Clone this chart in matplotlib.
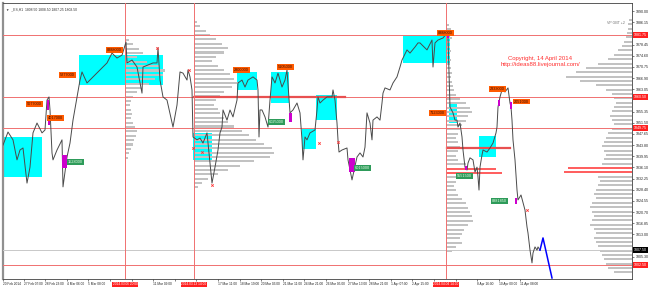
import matplotlib.pyplot as plt
from matplotlib.patches import Rectangle
from matplotlib.transforms import blended_transform_factory

plt.rcParams['font.family'] = ['Liberation Sans', 'DejaVu Sans']

# ---------------- PRICE PATH (bar, price) ----------------
price_path = [
    (0, 1843.8), (5, 1848.3), (10, 1845.6), (14, 1838.7), (17, 1842.1), (20, 1842.8),
    (24, 1830.7), (27, 1836.2), (30, 1848.0), (34, 1851.4), (39, 1848.0), (42, 1849.0),
    (44, 1859.3), (46, 1860.4), (47, 1855.9), (49, 1841.1), (50, 1838.7), (54, 1842.1),
    (59, 1845.6), (60, 1829.4), (64, 1839.7), (67, 1844.5), (70, 1852.4), (74, 1860.4),
    (77, 1866.2), (79, 1869.0), (84, 1865.2), (90, 1867.3), (97, 1869.7), (104, 1872.1),
    (109, 1875.5), (114, 1873.8), (119, 1874.8), (123, 1879.3), (124, 1872.1), (129, 1873.1),
    (134, 1870.7), (139, 1861.7), (140, 1870.7), (145, 1871.4), (150, 1872.1), (154, 1872.1),
    (155, 1877.3), (157, 1866.2), (160, 1860.4), (164, 1859.3), (170, 1850.0), (174, 1857.6),
    (177, 1869.0), (180, 1868.6), (184, 1866.2), (185, 1869.7), (187, 1867.3), (189, 1862.8),
    (190, 1846.6), (194, 1845.6), (197, 1846.2), (200, 1844.5), (204, 1848.0), (207, 1837.6),
    (209, 1830.7), (212, 1836.2), (215, 1842.1), (217, 1848.0), (219, 1850.0), (220, 1855.9),
    (224, 1852.4), (227, 1855.9), (230, 1853.5), (234, 1859.3), (235, 1865.2), (239, 1866.2),
    (242, 1863.8), (245, 1866.2), (250, 1867.3), (254, 1866.2), (255, 1862.8), (256, 1846.6),
    (257, 1855.9), (259, 1855.9), (262, 1853.5), (265, 1850.0), (267, 1859.3), (269, 1867.3),
    (272, 1865.2), (275, 1868.6), (279, 1863.8), (282, 1866.2), (284, 1869.7), (287, 1854.9),
    (290, 1855.9), (294, 1858.3), (297, 1854.9), (299, 1845.6), (300, 1838.7), (302, 1846.6),
    (304, 1845.6), (307, 1848.0), (312, 1849.0), (314, 1855.9), (315, 1860.4), (317, 1858.3),
    (320, 1859.3), (324, 1860.4), (329, 1860.4), (330, 1862.8), (332, 1859.3), (334, 1851.4),
    (335, 1845.6), (336, 1841.4), (339, 1842.1), (344, 1842.8), (345, 1838.7), (347, 1835.2),
    (349, 1831.8), (354, 1839.7), (357, 1841.1), (360, 1839.7), (362, 1843.1), (364, 1854.9),
    (367, 1851.4), (369, 1845.6), (370, 1852.4), (374, 1853.5), (377, 1852.4), (379, 1858.3),
    (380, 1861.7), (382, 1863.5), (387, 1862.8), (390, 1865.2), (394, 1867.3), (397, 1870.7),
    (399, 1873.1), (404, 1876.6), (407, 1875.5), (412, 1877.6), (415, 1879.0), (417, 1879.0),
    (424, 1876.6), (429, 1880.0), (430, 1870.7), (432, 1879.0), (435, 1880.0), (440, 1880.7),
    (444, 1882.4), (445, 1881.0), (447, 1856.9), (450, 1854.9), (452, 1852.4), (454, 1852.4),
    (455, 1850.0), (457, 1851.4), (459, 1846.6), (460, 1842.1), (462, 1836.2), (464, 1835.2),
    (465, 1837.6), (467, 1839.4), (470, 1838.7), (472, 1834.5), (474, 1836.2), (475, 1832.8),
    (476, 1828.3), (477, 1836.2), (479, 1840.4), (480, 1842.1), (484, 1841.4), (487, 1842.8),
    (490, 1844.5), (493, 1848.0), (494, 1850.0), (495, 1856.9), (497, 1860.4), (499, 1862.8),
    (502, 1862.1), (505, 1863.5), (507, 1858.3), (508, 1856.9), (509, 1852.4), (510, 1845.6),
    (512, 1838.7), (514, 1828.3), (515, 1824.9), (518, 1826.6), (522, 1821.4), (524, 1815.6),
    (525, 1813.5), (527, 1807.6), (529, 1803.2), (530, 1806.6), (532, 1808.7), (534, 1807.6),
    (535, 1808.7), (537, 1807.6),
]
projection = [(537, 1807.6), (540, 1811.8), (549, 1798.0)]

# ---------------- ZONES (bar from, bar to, low, high) ----------------
zones = [
    (0, 39, 1832.8, 1846.6), (76, 160, 1864.5, 1874.8), (190, 209, 1838.7, 1848.0),
    (234, 254, 1862.8, 1869.0), (268, 286, 1858.3, 1869.0), (299, 313, 1842.4, 1849.3),
    (313, 334, 1852.4, 1861.1), (400, 447, 1872.1, 1881.7), (446, 454, 1851.4, 1858.3),
    (476, 493, 1839.7, 1846.9),
]
magenta_marks = [
    (44, 46, 1855.9, 1859.3), (45, 47, 1850.7, 1854.2), (59, 64, 1835.9, 1840.4),
    (286, 289, 1851.7, 1854.9), (346, 352, 1834.5, 1839.4), (444, 446, 1880.7, 1883.1),
    (462, 464, 1835.2, 1836.6), (495, 497, 1857.3, 1859.3), (507, 509, 1856.2, 1858.7),
    (512, 514, 1823.5, 1825.6),
]
red_marks = [(154, 1877.3), (186, 1869.7), (209, 1830.0), (199, 1841.4), (190, 1842.8),
             (316, 1844.5), (335, 1844.8), (524, 1821.4)]

# ---------------- LABELS (bar, price, text, kind) ----------------
volume_labels = [
    (24, 1857.9, "5077000", "up"), (45, 1853.1, "4017000", "up"), (57, 1867.9, "5277000", "up"),
    (104, 1876.6, "8888000", "up"), (65, 1838.0, "1528000", "dn"), (231, 1869.7, "2800000", "up"),
    (275, 1870.7, "5105000", "up"), (266, 1851.7, "6025000", "dn"), (352, 1835.9, "6015000", "dn"),
    (435, 1882.4, "8888000", "up"), (427, 1854.9, "7123000", "up"), (454, 1833.1, "5551500", "dn"),
    (511, 1858.8, "2051000", "up"), (487, 1863.1, "2333000", "up"), (489, 1824.5, "8881850", "dn"),
]

# ---------------- LEVELS ----------------
red_levels = [1881.7, 1860.4, 1849.7, 1802.5]
red_level_labels = ["1881.75", "1860.50", "1849.75", "1802.50"]
bid_level = 1807.6
bid_label = "1807.50"
red_segments = [(191, 342, 1860.4), (444, 507, 1842.8)]
session_bars = [122, 191, 443]
session_labels = ["2014.03.06 20:00", "2014.03.13 14:00", "2014.04.04 14:00"]

# ---------------- VOLUME PROFILES (anchor bar, top price, widths, direction) ----------------
profile_step = 1.5
red_band = (1833.8, 1836.2)
profA_widths = [4, 8, 14, 18, 12, 22, 34, 40, 38, 30, 24, 16, 12, 8, 6, 5, 6, 7, 6, 8, 10, 12,
                11, 9, 8, 6, 4, 3]
profB_widths = [3, 6, 12, 16, 22, 28, 34, 30, 22, 18, 24, 30, 36, 40, 44, 38, 30, 26, 22, 20,
                24, 26, 30, 34, 40, 48, 55, 62, 70, 78, 80, 76, 60, 46, 34, 24, 14, 8, 4]
profC_widths = [3, 5, 8, 6, 4, 4, 5, 4, 5, 4, 5, 6, 5, 6, 7, 8, 10, 14, 20, 24, 26, 22, 20, 16,
                14, 12, 10, 12, 14, 12, 10, 12, 20, 50, 56, 14, 10, 8, 10, 12, 16, 20, 22, 24,
                26, 27, 22, 18, 16, 14, 16, 10, 6]
profD_widths = [3, 4, 4, 5, 6, 8, 10, 14, 18, 24, 34, 46, 56, 66, 52, 36, 26, 20, 18, 16, 18, 20,
                22, 20, 18, 20, 24, 26, 28, 30, 28, 26, 28, 30, 64, 68, 34, 32, 34, 36, 38, 36,
                40, 42, 40, 38, 40, 42, 38, 36, 38, 36, 34, 32, 30, 28, 26, 24, 18]
profiles = [
    (122, 1880.0, profA_widths, 1, False),
    (191, 1886.2, profB_widths, 1, False),
    (443, 1885.2, profC_widths, 1, True),
    (629, 1886.9, profD_widths, -1, True),
]

# ---------------- AXES TICKS ----------------
# ticks that sit under the boxed level labels are left out
price_ticks = [1890.00, 1886.15, 1878.45, 1874.60, 1870.75, 1866.90, 1863.05,
               1855.35, 1851.50, 1847.65, 1843.80, 1839.95, 1836.10, 1832.25, 1828.40, 1824.55,
               1820.70, 1816.85, 1813.00, 1805.30]
time_ticks = [0, 21, 42, 64, 85, 107, 129, 150, 172, 193, 215, 237, 258, 280, 301, 323, 345,
              366, 388, 409, 431, 453, 474, 496, 517]
# labels hidden under the red session boxes are left blank
time_labels = ["20 Feb 2014", "27 Feb 07:00", "28 Feb 23:00", "4 Mar 06:00", "5 Mar 08:00",
               "", "", "11 Mar 09:00", "", "",
               "17 Mar 11:00", "18 Mar 19:00", "20 Mar 03:00", "21 Mar 11:00", "24 Mar 21:00",
               "26 Mar 05:00", "27 Mar 13:00", "28 Mar 21:00", "1 Apr 07:00", "2 Apr 15:00",
               "", "", "8 Apr 16:00", "10 Apr 00:00", "11 Apr 08:00"]

# ---------------- PLOT ----------------
fig = plt.figure(figsize=(6.5, 2.87), dpi=100)
ax = fig.add_axes([3 / 650, 8 / 287, 629 / 650, 276 / 287])
ax.set_xlim(0, 629)
ax.set_ylim(1797.65, 1892.76)

line_red = '#F07070'

for b0, b1, lo, hi in zones:
    ax.add_patch(Rectangle((b0, lo), b1 - b0, hi - lo, facecolor='#00FFFF', edgecolor='none', zorder=1))

for anchor, top, widths, direction, has_red in profiles:
    for i, w in enumerate(widths):
        p = top - i * profile_step
        red = has_red and red_band[0] <= p <= red_band[1]
        left = anchor if direction > 0 else anchor - w
        ax.barh(p, w, left=left, height=0.7, color='#FF6060' if red else '#C2C2C2',
                edgecolor='none', zorder=2)

for lvl in red_levels:
    ax.axhline(lvl, color=line_red, lw=0.7, zorder=3)
ax.axhline(bid_level, color='#C8C8C8', lw=0.7, zorder=3)
for b0, b1, lvl in red_segments:
    ax.plot([b0, b1], [lvl, lvl], color='#E85050', lw=1.6, zorder=3)
for b in session_bars:
    ax.axvline(b, color=line_red, lw=0.7, zorder=3)

xs = [b for b, p in price_path]
ys = [p for b, p in price_path]
ax.plot(xs, ys, color='#4A4A4A', lw=0.7, zorder=4)
ax.plot([b for b, p in projection], [p for b, p in projection], color='#0000FF', lw=1.1, zorder=4,
        clip_on=False)

for b0, b1, lo, hi in magenta_marks:
    ax.add_patch(Rectangle((b0, lo), max(b1 - b0, 2), hi - lo, facecolor='#CC00CC',
                           edgecolor='none', zorder=5))
ax.scatter([b for b, p in red_marks], [p for b, p in red_marks], marker='x', s=3,
           color='#FF3030', linewidths=0.6, zorder=5)

for b, p, txt, kind in volume_labels:
    fc = '#FF5A00' if kind == 'up' else '#2E9B5A'
    tc = '#3A1000' if kind == 'up' else '#E8FFE8'
    ax.text(b, p, txt, fontsize=2.8, color=tc, ha='left', va='center', zorder=6,
            bbox=dict(facecolor=fc, edgecolor='none', pad=0.6))

ax.text(537, 1873.6, "Copyright, 14 April 2014", color='#FF3030', fontsize=4.3,
        ha='center', va='center', zorder=6)
ax.text(537, 1871.4, "http://ideas88.livejournal.com/", color='#FF3030', fontsize=4.3,
        ha='center', va='center', zorder=6)
ax.text(604, 1885.9, "VP GBT +2", color='#707070', fontsize=2.6, ha='left', va='center', zorder=6)
ax.text(0.004, 0.985, "\u25bc  _ES,H1  1808.50 1808.50 1807.25 1808.50", transform=ax.transAxes,
        fontsize=2.4, color='#303030', ha='left', va='top', zorder=6)

# right price axis
ax.yaxis.tick_right()
ax.set_yticks(price_ticks)
ax.set_yticklabels([f"{v:.2f}" for v in price_ticks])
ax.tick_params(axis='y', labelsize=2.6, length=1.5, width=0.4, pad=1, colors='#202020')
ytrans = blended_transform_factory(ax.transAxes, ax.transData)
for lvl, lab in zip(red_levels, red_level_labels):
    ax.text(1.003, lvl, lab, transform=ytrans, fontsize=2.6, color='white', ha='left',
            va='center', zorder=7, bbox=dict(facecolor='#FF2020', edgecolor='none', pad=0.5))
ax.text(1.003, bid_level, bid_label, transform=ytrans, fontsize=2.6, color='white', ha='left',
        va='center', zorder=7, bbox=dict(facecolor='#000000', edgecolor='none', pad=0.5))

# bottom time axis
ax.set_xticks(time_ticks)
ax.set_xticklabels(time_labels, ha='left')
ax.tick_params(axis='x', labelsize=2.3, length=1.5, width=0.4, pad=1, colors='#202020')
xtrans = blended_transform_factory(ax.transData, ax.transAxes)
for b, lab in zip(session_bars, session_labels):
    ax.text(b, -0.012, lab, transform=xtrans, fontsize=2.3, color='white', ha='center',
            va='top', zorder=7, bbox=dict(facecolor='#FF2020', edgecolor='none', pad=0.4))

for side in ['top', 'right', 'bottom']:
    ax.spines[side].set_color('#404040')
    ax.spines[side].set_linewidth(0.6)
ax.spines['left'].set_color('#909090')
ax.spines['left'].set_linewidth(1.6)

fig.savefig("out.png", dpi=100)
